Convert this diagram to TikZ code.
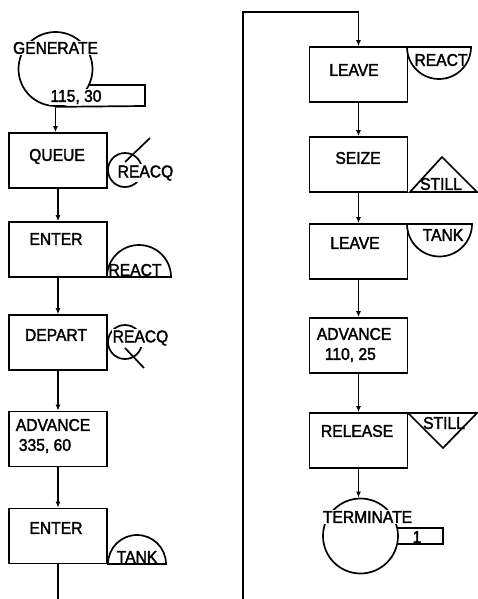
\documentclass[tikz,border=0pt]{standalone}
\usepackage{fontspec}
\setmainfont{Liberation Sans}[FakeStretch=0.92,FakeBold=2]
\usetikzlibrary{arrows.meta,calc}
\begin{document}
\begin{tikzpicture}[x=1pt,y=-1pt,
  line width=1.7pt,
  blk/.style={draw, minimum width=98pt, minimum height=55pt, inner sep=0pt},
  lbl/.style={font=\fontsize{17}{20}\selectfont, inner sep=1pt},
  wlbl/.style={lbl, fill=white},
  flow/.style={-{Latex[length=6pt,width=5pt]}},
  ring/.style={draw, circle, inner sep=0pt},
]
\useasboundingbox (0,0) rectangle (478,599);

% ---------- left column ----------
\node[ring, minimum size=74pt] (gen) at (55.5,69) {};
\draw ($(gen.center)+(33.4,16)$) -- (145,85) -- (145,106) -- (gen.south);
\node[wlbl] (gent) at (55.5,48) {GENERATE};
\node[wlbl] (genp) at (76,97) {115, 30};

\node[blk] (queue) at (58,160.5) {};
\node[lbl] (queuet) at (57,156.5) {QUEUE};
\node[ring, minimum size=34pt] (qc) at (125,170) {};
\draw ($(qc.center)+(0,-8)$) -- ++(25,-24);
\node[wlbl] (qct) at (145.5,173) {REACQ};

\node[blk] (enter1) at (58,249.5) {};
\node[lbl] (enter1t) at (56,239) {ENTER};
\draw (107,277) arc[start angle=180,end angle=0,radius=32pt] -- cycle;
\node[lbl] (enter1s) at (135,270) {REACT};

\node[blk] (depart) at (58,342.5) {};
\node[lbl] (departt) at (56,335) {DEPART};
\node[ring, minimum size=34pt] (dc) at (125,342) {};
\draw ($(dc.center)+(0,6)$) -- ++(19,20);
\node[wlbl] (dct) at (140.5,338) {REACQ};

\node[blk] (adv1) at (58,439) {};
\node[lbl, anchor=west] (adv1t) at (14,425) {ADVANCE};
\node[lbl, anchor=west] (adv1p) at (17,446) {335, 60};

\node[blk] (enter2) at (58,536) {};
\node[lbl] (enter2t) at (56,528) {ENTER};
\draw (108,564) arc[start angle=180,end angle=0,radius=29pt] -- cycle;
\node[lbl] (enter2s) at (137,557) {TANK};

\draw[flow] (gen.south) -- (gen.south |- queue.north);
\draw[flow] (queue.south) -- (enter1.north);
\draw[flow] (enter1.south) -- (depart.north);
\draw[flow] (depart.south) -- (adv1.north);
\draw[flow] (adv1.south) -- (enter2.north);
\coordinate (lbot) at (58,599);
\draw (enter2.south) -- (lbot);

% ---------- right column ----------
\node[blk] (leave1) at (358.5,74.5) {};
\node[lbl] (leave1t) at (354,70) {LEAVE};
\draw (407,47) arc[start angle=180,end angle=360,radius=32pt] -- cycle;
\node[lbl] (leave1s) at (441,60) {REACT};

\node[blk] (seize) at (358.5,164.5) {};
\node[lbl] (seizet) at (358,158) {SEIZE};
\draw (410,192) -- (442,157) -- (477,192) -- cycle;
\node[lbl] (seizes) at (441,184) {STILL};

\node[blk] (leave2) at (358.5,251.5) {};
\node[lbl] (leave2t) at (355,243) {LEAVE};
\draw (407,224) arc[start angle=180,end angle=360,radius=32.5pt] -- cycle;
\node[lbl] (leave2s) at (443,235) {TANK};

\node[blk] (adv2) at (358.5,345.5) {};
\node[lbl, anchor=west] (adv2t) at (315,334) {ADVANCE};
\node[lbl, anchor=west] (adv2p) at (323,355) {110, 25};

\node[blk] (release) at (358.5,440.5) {};
\node[lbl] (releaset) at (357,431) {RELEASE};
\draw (408,413) -- (477,413) -- (443,448) -- cycle;
\node[lbl] (releases) at (444,423) {STILL};

\node[ring, minimum size=75pt] (term) at (360.5,536) {};
\draw (397,528) -- (443,528) -- (443,544) -- (397,544);
\node[wlbl] (termt) at (367.5,517) {TERMINATE};
\node[lbl] (termp) at (417,537) {1};

\coordinate (rbot) at (243,599);
\coordinate (rtop) at (243,12);
\draw[flow] (rbot) -- (rtop) -| (leave1.north);
\draw[flow] (leave1.south) -- (seize.north);
\draw[flow] (seize.south) -- (leave2.north);
\draw[flow] (leave2.south) -- (adv2.north);
\draw[flow] (adv2.south) -- (release.north);
\draw[flow] (release.south) -- (release.south |- term.north);
\end{tikzpicture}
\end{document}
